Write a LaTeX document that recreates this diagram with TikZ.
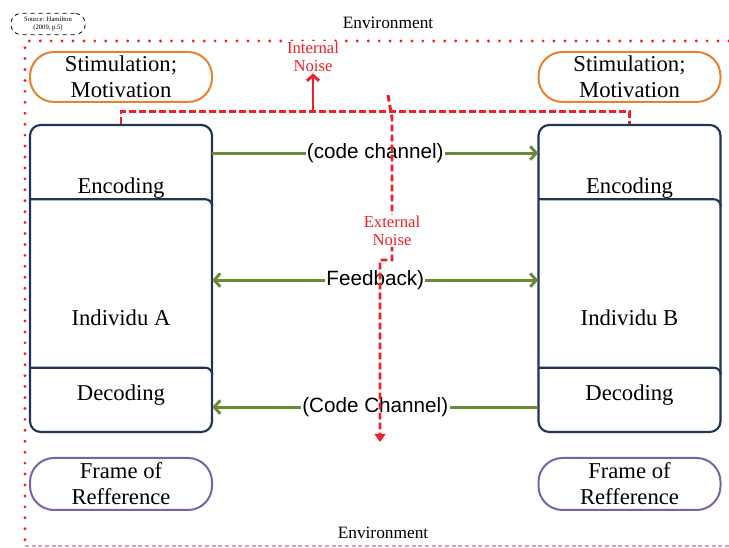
\documentclass[tikz,border=0pt]{standalone}
\usepackage{fontspec}
\setmainfont{Liberation Serif}
\setsansfont{Liberation Sans}
\usetikzlibrary{arrows.meta,calc}
\definecolor{orng}{HTML}{E5822F}
\definecolor{navy}{HTML}{1F3458}
\definecolor{olive}{HTML}{6A8A35}
\definecolor{purp}{HTML}{7B62A8}
\definecolor{nred}{HTML}{EE2027}
\definecolor{pink}{HTML}{D9A3B3}
\tikzset{
  pill/.style={draw, line width=1.5pt, rounded corners=18pt, minimum width=136.5pt, align=center,
    font=\fontsize{17}{19.5}\selectfont, inner sep=0pt},
  part/.style={minimum width=136.5pt, inner sep=0pt},
  outerbox/.style={draw=navy, line width=1.6pt, rounded corners=8pt, minimum width=136.5pt, minimum height=230.25pt, inner sep=0pt},
  divider/.style={draw=navy, line width=1.6pt},
  btext/.style={font=\fontsize{17}{19}\selectfont, inner sep=0pt},
  garrow/.style={draw=olive, line width=2.2pt, -{Straight Barb[length=4.5pt,width=10pt]}},
  gboth/.style={draw=olive, line width=2.2pt, {Straight Barb[length=4.5pt,width=10pt]}-{Straight Barb[length=4.5pt,width=10pt]}},
  chlabel/.style={fill=white, inner sep=1pt, font=\sffamily\fontsize{15.5}{17}\selectfont},
  reddash/.style={draw=nred, line width=2.2pt, dash pattern=on 5pt off 2.5pt},
  envdot/.style={draw=nred, line width=2.4pt, line cap=round, dash pattern=on 0pt off 8.2pt},
  redlabel/.style={text=nred, fill=white, inner sep=1pt, align=center, font=\fontsize{12.5}{13.5}\selectfont},
  envlabel/.style={font=\fontsize{13}{14}\selectfont, inner sep=1pt}
}
\begin{document}
\begin{tikzpicture}[x=0.75pt,y=-0.75pt]
\useasboundingbox (0,0) rectangle (729,548);
% environment border
\coordinate (envTL) at (25,41);
\coordinate (envTR) at (729,41);
\coordinate (envBL) at (25,546);
\coordinate (envBR) at (729,546);
\draw[envdot] (envTR) -- (envTL) -- (envBL);
\draw[pink, line width=0.8pt, dash pattern=on 3pt off 2pt] (envBL) -- (envBR);
\node[envlabel] (envtop) at (388,23) {Environment};
\node[envlabel] (envbot) at (383,533) {Environment};
% source
\node[draw, dashed, line width=0.6pt, rounded corners=8pt, align=center, inner sep=1.5pt,
  font=\fontsize{5}{6}\selectfont, minimum width=56pt, minimum height=16pt] (src) at (48,24) {Source: Hamilton\\(2009, p.5)};
% stimulation
\node[pill, draw=orng, minimum height=37.5pt] (stimA) at (121,77) {Stimulation;\\Motivation};
\node[pill, draw=orng, minimum height=37.5pt] (stimB) at (629.5,77) {Stimulation;\\Motivation};
% frame
\node[pill, draw=purp, minimum height=39pt] (frameA) at (121,484) {Frame of\\Refference};
\node[pill, draw=purp, minimum height=39pt] (frameB) at (629.5,484) {Frame of\\Refference};
% individual A
\node[outerbox] (boxA) at (121,278.5) {};
\node[part, minimum height=55.5pt] (encA) at (121,162) {};
\node[part, minimum height=126.75pt] (midA) at (121,283.5) {};
\node[part, minimum height=48pt] (decA) at (121,400) {};
\draw[divider] (encA.south west) -- ($(encA.south east)+(-7,0)$) to[out=0,in=90] ($(encA.south east)+(0,7)$);
\draw[divider] (decA.north west) -- ($(decA.north east)+(-7,0)$) to[out=0,in=90] ($(decA.north east)+(0,7)$);
\node[btext] (encAt) at (121,188) {Encoding};
\node[btext] (indAt) at (121,318) {Individu A};
\node[btext] (decAt) at (121,395) {Decoding};
% individual B
\node[outerbox] (boxB) at (629.5,278.5) {};
\node[part, minimum height=55.5pt] (encB) at (629.5,162) {};
\node[part, minimum height=126.75pt] (midB) at (629.5,283.5) {};
\node[part, minimum height=48pt] (decB) at (629.5,400) {};
\draw[divider] (encB.south west) -- ($(encB.south east)+(-7,0)$) to[out=0,in=90] ($(encB.south east)+(0,7)$);
\draw[divider] (decB.north west) -- ($(decB.north east)+(-7,0)$) to[out=0,in=90] ($(decB.north east)+(0,7)$);
\node[btext] (encBt) at (629.5,188) {Encoding};
\node[btext] (indBt) at (629.5,318) {Individu B};
\node[btext] (decBt) at (629.5,395) {Decoding};
% green channels
\draw[garrow] ($(encA.north east)!0.38!(encA.south east)$) -- node[chlabel] (ch1) {(code channel)} ($(encB.north west)!0.38!(encB.south west)$);
\draw[gboth] ($(midA.north east)!0.48!(midA.south east)$) -- node[chlabel] (ch2) {Feedback)} ($(midB.north west)!0.48!(midB.south west)$);
\draw[garrow] ($(decB.north west)!0.61!(decB.south west)$) -- node[chlabel] (ch3) {(Code Channel)} ($(decA.north east)!0.61!(decA.south east)$);
% internal noise
\node[redlabel] (inoise) at (313,57) {Internal\\Noise};
\draw[reddash] (boxA.north) -- ++(0,-12) -| (boxB.north);
\coordinate (inbase) at (313,113);
\draw[draw=nred, line width=2.2pt, -{Straight Barb[length=4pt,width=9pt]}] (inbase) -- (inoise.south);
% external noise
\coordinate (ex0) at (388,95);
\coordinate (ex1) at (392,118);
\coordinate (ex2) at (392,260);
\coordinate (ex3) at (380,260);
\coordinate (exend) at (380,442);
\draw[reddash, -{Triangle[length=6pt,width=8pt]}] (ex0) -- (ex1) -- (ex2) -- (ex3) -- (exend);
\node[redlabel] (enoise) at (392,231) {External\\Noise};
\end{tikzpicture}
\end{document}
